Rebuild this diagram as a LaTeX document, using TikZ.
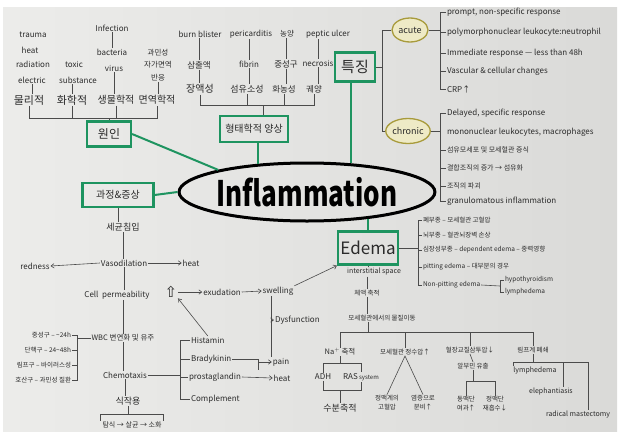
\documentclass[tikz,border=0pt]{standalone}
\usepackage{fontspec}
\setmainfont{Noto Sans CJK KR}
\newfontfamily\symf{DejaVu Sans}
\usetikzlibrary{shapes.geometric,arrows.meta,calc}
\definecolor{ink}{HTML}{2B2B2B}
\definecolor{grn}{HTML}{1E9460}
\definecolor{olv}{HTML}{A89B3C}
\definecolor{yel}{HTML}{EEEAC6}
\definecolor{paperL}{HTML}{ECECEA}
\definecolor{paperR}{HTML}{DADAD8}
\newcommand\myfs[1]{\fontsize{#1}{#1}\selectfont}
\begin{document}
\begin{tikzpicture}[x=1pt,y=-1pt,
  lb/.style={inner sep=0.8pt, text=ink, font=\myfs{8}},
  ls/.style={inner sep=0.8pt, text=ink, font=\myfs{6.5}},
  lk/.style={inner sep=0.8pt, text=ink, font=\myfs{11}},
  two/.style={inner sep=0.8pt, text=ink, align=center, font=\fontsize{6.5}{9}\selectfont},
  gbox/.style={draw=grn, line width=2.2pt, inner sep=0pt, text=ink},
  oval/.style={ellipse, draw=olv, line width=1.3pt, fill=yel, inner sep=0pt, text=ink, font=\myfs{9}},
  ln/.style={draw=ink!85, line width=0.6pt},
  gl/.style={draw=grn, line width=2pt},
  arr/.style={ln, -{Straight Barb[length=3pt,width=4.5pt]}}]
\useasboundingbox (0,0) rectangle (620,431);
\fill[white] (0,0) rectangle (620,431);
\shade[left color=paperL, right color=paperR] (3,7) rectangle (617,431);

% ---------- centre ----------
\node[ellipse, draw=black, line width=3pt, minimum width=206pt, minimum height=58pt, inner sep=0pt] (inf) at (307,192)
  {\scalebox{1}[1.35]{\fontsize{26}{26}\selectfont\bfseries Inflammation}};

% ---------- green boxes ----------
\node[gbox, minimum width=44pt, minimum height=25pt, font=\myfs{12}] (won) at (109,134) {원인};
\node[gbox, minimum width=68pt, minimum height=26pt, font=\myfs{10}] (morph) at (254,129) {형태학적 양상};
\node[gbox, minimum width=40pt, minimum height=29pt, font=\myfs{15}] (feat) at (355,67) {특징};
\node[gbox, minimum width=71pt, minimum height=24pt, font=\myfs{10}] (proc) at (118,195) {과정\&증상};
\node[gbox, minimum width=60pt, minimum height=33pt, font=\myfs{17}] (edema) at (368,248) {Edema};

\draw[gl] (won.east) -- (inf.166);
\draw[gl] (inf.150) -- (inf.150 |- morph.south);
\draw[gl] (inf.33) -- (inf.33 |- feat.south);
\draw[gl] (proc.east) -- (inf.west);
\draw[gl] (inf.336) -- (inf.336 |- edema.north);

% ---------- causes ----------
\node[lb] (c1) at (33,35) {trauma};
\node[lb] (c2) at (30,50) {heat};
\node[lb] (c3) at (33,64) {radiation};
\node[lb] (c4) at (32,80) {electric};
\node[lb] (c5) at (74,64) {toxic};
\node[lb] (c6) at (78,80) {substance};
\node[lb] (c7) at (112,28) {Infection};
\node[lb] (c8) at (112,52) {bacteria};
\node[lb] (c9) at (114,68) {virus};
\node[inner sep=0.8pt, text=ink, align=center, font=\fontsize{7.5}{12.5}\selectfont] (hyper) at (158,65) {과민성\\자가면역\\반응};
\node[lk] (k1) at (29,100) {물리적};
\node[lk] (k2) at (72,100) {화학적};
\node[lk, font=\myfs{10}] (k3) at (116,100) {생물학적};
\node[lk, font=\myfs{10}] (k4) at (157,100) {면역학적};
\coordinate (cbar) at (109,118);
\draw[ln] (c7.south) -- (c8.north);
\draw[ln] (c4.south) -- (c4.south |- k1.north);
\draw[ln] (k2.north |- c6.south) -- (k2.north);
\draw[ln] (c9.south) -- (c9.south |- k3.north);
\draw[ln] (hyper.south) -- (hyper.south |- k4.north);
\draw[ln] (k1.south) -- (k1.south |- cbar) -- (k4.south |- cbar) -- (k4.south);
\draw[ln] (k2.south) -- (k2.south |- cbar);
\draw[ln] (k3.south) -- (k3.south |- cbar);
\draw[ln] (cbar) -- (won.north);

% ---------- morphology ----------
\node[lb] (m1) at (200,34) {burn blister};
\node[lb] (m2) at (251,34) {pericarditis};
\node[lb, font=\myfs{7.5}] (m3) at (287,34) {농양};
\node[lb] (m4) at (328,34) {peptic ulcer};
\node[lb, font=\myfs{8.5}] (n1) at (199,65) {삼출액};
\node[lb] (n2) at (249,64) {fibrin};
\node[lb, font=\myfs{8.5}] (n3) at (286,64) {중성구};
\node[lb] (n4) at (318,63) {necrosis};
\node[lb, font=\myfs{10}] (p1) at (200,89) {장액성};
\node[lb, font=\myfs{9}] (p2) at (247,89) {섬유소성};
\node[lb, font=\myfs{8.5}] (p3) at (284,89) {화농성};
\node[lb, font=\myfs{8.5}] (p4) at (314,89) {궤양};
\foreach \i in {1,...,4}{
  \draw[ln] (n\i.north |- m\i.south) -- (n\i.north);
  \draw[ln] (n\i.south) -- (n\i.south |- p\i.north);
}
\coordinate (mbar) at (263,105);
\draw[ln] (p1.south) -- (p1.south |- mbar) -- (p4.south |- mbar) -- (p4.south);
\draw[ln] (p2.south) -- (p2.south |- mbar);
\draw[ln] (p3.south) -- (p3.south |- mbar);
\draw[ln] (mbar) -- (mbar |- morph.north);

% ---------- features ----------
\node[oval, minimum width=36pt, minimum height=24pt] (acute) at (410,30) {acute};
\node[oval, minimum width=40pt, minimum height=25pt] (chronic) at (408,131) {chronic};
\coordinate (fb) at (382,67);
\draw[ln] (feat.east) -- (fb);
\draw[ln] (acute.west) -- (acute.west -| fb) -- (chronic.west -| fb) -- (chronic.west);

\coordinate (ab) at (440,50);
\node[lb, anchor=west] (a1) at (446,12) {prompt, non-specific response};
\node[lb, anchor=west] (a2) at (446,32) {polymorphonuclear leukocyte:neutrophil};
\node[lb, anchor=west] (a3) at (446,53) {Immediate response — less than 48h};
\node[lb, anchor=west] (a4) at (446,71) {Vascular \& cellular changes};
\node[lb, anchor=west] (a5) at (446,89) {CRP↑};
\draw[ln] (a1.west) -- (a1.west -| ab) -- (a5.west -| ab) -- (a5.west);
\foreach \a in {a2,a3,a4} \draw[ln] (\a.west) -- (\a.west -| ab);
\draw[ln] (acute.east) -- (acute.east -| ab);

\node[lb, anchor=west] (h1) at (446,113) {Delayed, specific response};
\node[lb, anchor=west] (h2) at (446,132) {mononuclear leukocytes, macrophages};
\node[lb, anchor=west, font=\myfs{7}] (h3) at (446,150) {섬유모세포 및 모세혈관 증식};
\node[lb, anchor=west, font=\myfs{7}] (h4) at (446,168) {결합조직의 증가 → 섬유화};
\node[lb, anchor=west, font=\myfs{7}] (h5) at (446,186) {조직의 파괴};
\node[lb, anchor=west] (h6) at (446,201) {granulomatous inflammation};
\draw[ln] (h1.west) -- (h1.west -| ab) -- (h6.west -| ab) -- (h6.west);
\foreach \a in {h3,h4,h5} \draw[ln] (\a.west) -- (\a.west -| ab);
\draw[ln] (chronic.east) -- (chronic.east -| ab);

% ---------- edema ----------
\coordinate (eb) at (418,248);
\node[ls, anchor=west] (e1) at (422,220) {폐부종 – 모세혈관 고혈압};
\node[ls, anchor=west] (e2) at (422,235) {뇌부종 – 혈관뇌장벽 손상};
\node[ls, anchor=west] (e3) at (422,250) {심장성부종 – dependent edema – 중력영향};
\node[ls, anchor=west] (e4) at (422,267) {pitting edema – 대부분의 경우};
\node[ls, anchor=west] (e5) at (422,285) {Non-pitting edema};
\node[ls, anchor=west] (e6) at (504,280) {hypothyroidism};
\node[ls, anchor=west] (e7) at (504,292) {lymphedema};
\draw[ln] (edema.east) -- (eb);
\draw[ln] (e1.west) -- (e1.west -| eb) -- (e5.west -| eb) -- (e5.west);
\foreach \a in {e2,e3,e4} \draw[ln] (\a.west) -- (\a.west -| eb);
\coordinate (nb) at (500,286);
\draw[ln] (e5.east) -- (nb);
\draw[ln] (e6.west) -- (e6.west -| nb) -- (e7.west -| nb) -- (e7.west);

\node[ls, font=\myfs{7}] (inter) at (374,272) {interstitial space};
\node[ls] (fl) at (367,293) {체액 축적};
\node[ls] (mv) at (382,318) {모세혈관에서의 물질이동};
\draw[ln] (edema.south) -- (edema.south |- inter.north);
\draw[ln] (fl.north |- inter.south) -- (fl.north);
\draw[ln] (fl.south) -- (fl.south |- mv.north);
\coordinate (mvb) at (368,332);
\draw[ln] (mv.south -| mvb) -- (mvb);
\node[lb, font=\myfs{7.5}] (b1) at (340,352) {Na$^{+}$ 축적};
\node[ls] (b2) at (405,352) {모세혈관 정수압↑};
\node[ls] (b3) at (470,350) {혈장교질삼투압↓};
\node[ls] (b4) at (533,350) {림프계 폐쇄};
\draw[ln] (b1.north) -- (b1.north |- mvb) -- (b4.north |- mvb) -- (b4.north);
\draw[ln] (b2.north) -- (b2.north |- mvb);
\draw[ln] (b3.north) -- (b3.north |- mvb);

% Na branch
\node[lb] (adh) at (323,377) {ADH};
\node[lb] (ras) at (361,377) {RAS{\myfs{6} system}};
\node[lb, font=\myfs{9}] (water) at (340,408) {수분축적};
\coordinate (nab) at (340,363);
\coordinate (nab2) at (340,390);
\draw[ln] (b1.south) -- (nab);
\draw[ln] (adh.north) -- (adh.north |- nab) -- (ras.north |- nab) -- (ras.north);
\draw[ln] (adh.south) -- (adh.south |- nab2) -- (ras.south |- nab2) -- (ras.south);
\draw[ln] (nab2) -- (water.north);

% hydrostatic
\node[two] (v1) at (387,403) {정맥계의\\고혈압};
\node[two] (v2) at (423,403) {염증으로\\분비↑};
\draw[ln] (v1.north) -- (b2.south) -- (v2.north);

% oncotic
\node[ls] (al) at (473,366) {알부민 유출};
\node[two] (o1) at (466,404) {동맥단\\여과↑};
\node[two] (o2) at (495,404) {정맥단\\재흡수↓};
\coordinate (ob) at (473,381);
\draw[ln] (b3.south) -- (al.north);
\draw[ln] (al.south) -- (ob);
\draw[ln] (o1.north) -- (o1.north |- ob) -- (o2.north |- ob) -- (o2.north);

% lymphatic
\node[ls, font=\myfs{7}] (l1) at (535,371) {lymphedema};
\node[ls, font=\myfs{7}] (l2) at (551,392) {elephantiasis};
\node[ls, font=\myfs{7}, anchor=west] (l3) at (545,415) {radical mastectomy};
\coordinate (lbL) at (513,362);
\coordinate (lbM) at (563,362);
\coordinate (lbR) at (588,362);
\draw[ln] (b4.south) -- (b4.south |- lbL);
\draw[ln] (lbL |- l1.north) -- (lbL) -- (lbR) -- (lbR |- l3.north);
\draw[ln] (lbM) -- (lbM |- l2.north);

% ---------- process & symptoms ----------
\node[lb, font=\myfs{9}] (s1) at (123,227) {세균침입};
\node[lb] (s2) at (124,263) {Vasodilation};
\node[lb] (s3) at (35,266) {redness};
\node[lb] (s4) at (191,263) {heat};
\node[lb] (s5) at (117,295) {Cell\ \ permeability};
\node[inner sep=0.5pt, text=ink, font=\symf\fontsize{15}{15}\selectfont] (s6) at (171,292) {⇧};
\node[lb] (s7) at (222,292) {exudation};
\node[lb] (s8) at (278,291) {swelling};
\node[lb, anchor=west] (s9) at (274,320) {Dysfunction};
\node[lb, font=\myfs{7.5}] (s10) at (123,338) {WBC 변연화 및 유주};
\node[lb] (s11) at (125,375) {Chemotaxis};
\node[lb, font=\myfs{9}] (s12) at (128,401) {식작용};
\node[lb, font=\myfs{7}] (s13) at (132,425) {탐식 → 살균 → 소화};

\node[ls, anchor=east] (w1) at (72,335) {중성구 – \textasciitilde24h};
\node[ls, anchor=east] (w2) at (72,350) {단핵구 – 24\textasciitilde48h};
\node[ls, anchor=east] (w3) at (72,365) {림프구 – 바이러스성};
\node[ls, anchor=east] (w4) at (72,380) {호산구 – 과민성 질환};

\node[lb, anchor=west] (ch1) at (190,340) {Histamin};
\node[lb, anchor=west] (ch2) at (190,359) {Bradykinin};
\node[lb, anchor=west] (ch3) at (188,377) {prostaglandin};
\node[lb, anchor=west] (ch4) at (190,399) {Complement};
\node[lb] (pain) at (281,362) {pain};
\node[lb] (heat2) at (282,378) {heat};

\draw[ln] (proc.south) -- (proc.south |- s1.north);
\draw[ln] (s1.south) -- (s1.south |- s2.north);
\draw[arr] (s2.west) -- (s3.east);
\draw[arr] (s2.east) -- (s4.west);
\draw[ln] (s2.south) -- (s2.south |- s5.north);
\draw[arr] (s6.east) -- (s7.west);
\draw[arr] (s7.east) -- (s8.west);
\draw[arr] (s8.north east) -- (edema.south west);
\draw[ln] (pain.north west |- s8.south) -- (pain.north west);
\draw[arr] (pain.north west |- s9.west) -- (s9.west);
\draw[ln] (s5.south -| s10.north) -- (s10.north);
\draw[ln] (s10.south) -- (s10.south |- s11.north);
\draw[ln] (s11.south) -- (s11.south |- s12.north);
\coordinate (pb) at (128,414);
\coordinate (pbL) at (100,414);
\coordinate (pbR) at (163,414);
\draw[ln] (s12.south) -- (pb);
\draw[ln] (pbL |- s13.north) -- (pbL) -- (pbR) -- (pbR |- s13.north);

\coordinate (wbx) at (77,338);
\draw[ln] (w1.east) -- (w1.east -| wbx) -- (w4.east -| wbx) -- (w4.east);
\draw[ln] (w2.east) -- (w2.east -| wbx);
\draw[ln] (w3.east) -- (w3.east -| wbx);
\draw[ln] (s10.west) -- (s10.west -| wbx);

\coordinate (chx) at (180,375);
\draw[ln] (s11.east) -- (chx);
\draw[ln] (ch1.west) -- (ch1.west -| chx) -- (ch4.west -| chx) -- (ch4.west);
\draw[ln] (ch2.west) -- (ch2.west -| chx);
\draw[ln] (ch3.west) -- (ch3.west -| chx);
\draw[arr] (ch1.north) -- (s6.south east);
\coordinate (bkx) at (258,370);
\draw[ln] (ch2.east) -| (bkx);
\draw[arr] (pain.west -| bkx) -- (pain.west);
\draw[arr] (ch3.east) -- (heat2.west);
\end{tikzpicture}
\end{document}
